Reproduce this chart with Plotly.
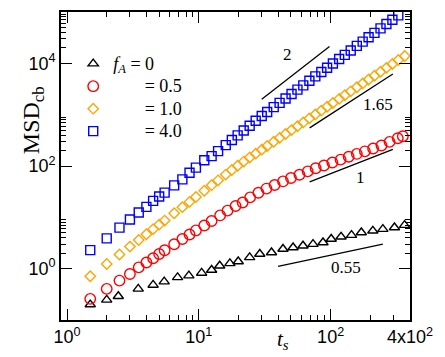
import numpy as np
import plotly.graph_objects as go

# time values (t_s) and MSD_cb values for each f_A
t_f0 = [1.5, 2, 2.45, 3.47, 4.5, 5.46, 6.9, 8.4, 10.5, 12.5, 14.4, 17.2, 19.9, 24.3, 29.0,
        35.6, 43.5, 51.9, 61.7, 73.5, 87.5, 101, 120, 144, 171, 209, 249, 305, 364]
msd_f0 = [0.20, 0.247, 0.290, 0.404, 0.482, 0.560, 0.678, 0.731, 0.826, 0.944, 1.14, 1.27, 1.38,
          1.66, 1.93, 2.07, 2.42, 2.59, 2.80, 3.01, 3.24, 3.78, 4.18, 4.51, 5.07, 5.47, 5.90, 6.34, 7.06]

t_f05 = [1.5, 2, 2.5, 3, 3.5, 4, 4.5, 5, 5.5, 6.5, 7.5, 8.5, 9.5, 11, 12.5, 14.5, 16.5, 19, 21.5,
         24.5, 28.3, 32.6, 37.6, 43.5, 50, 58, 67, 77, 89, 103, 119, 137, 158, 182, 210, 243, 280, 323, 353]
msd_f05 = [0.258, 0.404, 0.585, 0.789, 1.06, 1.32, 1.60, 1.93, 2.29, 2.99, 3.78, 4.62, 5.56, 6.92,
           8.51, 10.9, 13.5, 16.6, 19.5, 24.5, 30.2, 36.3, 42.7, 50.1, 58.2, 67.6, 78.5, 90.2, 102,
           117, 133, 151, 172, 193, 219, 251, 295, 347, 380]

t_f1 = [1.5, 2, 2.5, 3, 3.5, 4, 4.5, 5, 5.5, 6.5, 7.5, 8.5, 9.5, 11, 12.5, 14, 16, 17.8, 19.7, 21.9,
        24.3, 27, 30, 33, 37, 41, 45.5, 50.5, 56, 62, 69, 76.5, 85, 94, 104, 116, 128, 142, 158,
        175, 194, 215, 239, 265, 294, 326, 365]
msd_f1 = [0.71, 1.23, 1.89, 2.69, 3.62, 4.69, 5.89, 7.21, 8.65, 12.0, 15.8, 20.0, 24.9, 33.0, 42.3,
          52.6, 68.1, 83.5, 101, 122, 146, 174, 208, 245, 296, 353, 420, 500, 596, 706, 847, 1010,
          1200, 1430, 1690, 2030, 2390, 2850, 3420, 4060, 4830, 5730, 6850, 8160, 9710, 11600, 13900]

t_f4 = [1.5, 2, 2.5, 3, 3.5, 4, 4.5, 5, 5.5, 6.5, 7.5, 8.5, 9.5, 11, 12.5, 14, 16, 17.8, 19.7, 21.9,
        24.3, 27, 30, 33, 37, 41, 45.5, 50.5, 56, 62, 69, 76.5, 85, 94, 104, 116, 128, 142, 158,
        175, 194, 215, 239, 265, 294, 326, 357]
msd_f4 = [2.3, 3.9, 6.3, 9.1, 12.4, 16, 20.9, 25.4, 30.3, 42, 55, 74, 93, 129, 156, 195, 255, 320,
          395, 490, 610, 760, 940, 1130, 1400, 1700, 2070, 2530, 3080, 3720, 4580, 5570, 6780, 8200,
          9950, 12150, 14600, 17800, 21900, 26500, 32300, 39200, 47900, 58200, 70500, 85800, 101600]

# slope guide segments and their labels
guide_x = [[30, 98], [69.3, 296.5], [69.3, 296.5], [39.9, 249]]
guide_y = [[2000, 21300], [554, 6200], [48.9, 211], [1.11, 3.02]]
guide_text = ["2", "1.65", "1", "0.55"]
guide_lab_x = [47, 227, 168, 131.5]
guide_lab_y = [14960, 1600, 61, 1.06]

nb = "\u00a0"


def big(s):
    return '<span style="font-size:18px">' + s + "</span>"


series = [
    (t_f0, msd_f0, big("<i>f<sub>A</sub></i> = 0"), "triangle-up-open", "black", 9),
    (t_f05, msd_f05, big(nb * 7 + "= 0.5"), "circle-open", "red", 10.5),
    (t_f1, msd_f1, big(nb * 7 + "= 1.0"), "diamond-open", "orange", 8),
    (t_f4, msd_f4, big(nb * 7 + "= 4.0"), "square-open", "blue", 9),
]

fig = go.Figure()
for t, m, name, sym, col, sz in series:
    fig.add_trace(go.Scatter(
        x=t, y=m, mode="markers", name=name, cliponaxis=False,
        marker=dict(symbol=sym, size=sz, color=col, line=dict(color=col, width=1.4)),
    ))

for gx, gy in zip(guide_x, guide_y):
    fig.add_trace(go.Scatter(x=gx, y=gy, mode="lines", showlegend=False,
                             line=dict(color="black", width=1.3)))

for tx, lx, ly in zip(guide_text, guide_lab_x, guide_lab_y):
    fig.add_annotation(x=np.log10(lx), y=np.log10(ly), xref="x", yref="y", text=tx,
                       showarrow=False, font=dict(family="Liberation Serif", size=17, color="black"))

x_minor = [k * 10 ** e for e in range(0, 3) for k in range(2, 10) if k * 10 ** e < 400]
y_minor = [k * 10 ** e for e in (0, 2, 4) for k in range(2, 10)]

axis_common = dict(
    type="log", showline=True, linecolor="black", linewidth=1.6, mirror="ticks",
    ticks="inside", ticklen=11, tickwidth=1.3, tickcolor="black", showgrid=False,
    zeroline=False, tickfont=dict(family="Liberation Sans", size=18, color="black"),
)

fig.update_xaxes(
    range=[np.log10(0.9), np.log10(400)], tickmode="array",
    tickvals=[1, 10, 100, 400],
    ticktext=["10<sup>0</sup>", "10<sup>1</sup>", "10<sup>2</sup>", "4x10<sup>2</sup>"],
    minor=dict(tickmode="array", tickvals=x_minor, ticks="inside", ticklen=5,
               tickwidth=1.3, tickcolor="black", showgrid=False),
    **axis_common,
)
fig.update_yaxes(
    range=[-1, 5], tickmode="array",
    tickvals=[1, 100, 10000],
    ticktext=["10<sup>0</sup>", "10<sup>2</sup>", "10<sup>4</sup>"],
    minor=dict(tickmode="array", tickvals=y_minor, ticks="inside", ticklen=5,
               tickwidth=1.3, tickcolor="black", showgrid=False),
    **axis_common,
)

fig.add_annotation(x=0.636, y=-0.065, xref="paper", yref="paper", xanchor="center",
                   yanchor="middle", text="<i>t<sub>s</sub></i>", showarrow=False,
                   font=dict(family="Liberation Serif", size=21, color="black"))
fig.add_annotation(x=-0.082, y=0.65, xref="paper", yref="paper", xanchor="center",
                   yanchor="middle", text="MSD<sub>cb</sub>", showarrow=False, textangle=-90,
                   font=dict(family="Liberation Serif", size=24, color="black"))

fig.update_layout(
    width=445, height=357,
    margin=dict(l=61, r=35, t=10, b=37),
    plot_bgcolor="white", paper_bgcolor="white",
    legend=dict(x=0.035, y=0.885, xanchor="left", yanchor="top", bgcolor="rgba(0,0,0,0)",
                font=dict(family="Liberation Serif", size=15, color="black"),
                itemwidth=30),
)

fig.write_html("out.html", config={"displayModeBar": False},
               post_script="document.body.style.margin='0px';")
